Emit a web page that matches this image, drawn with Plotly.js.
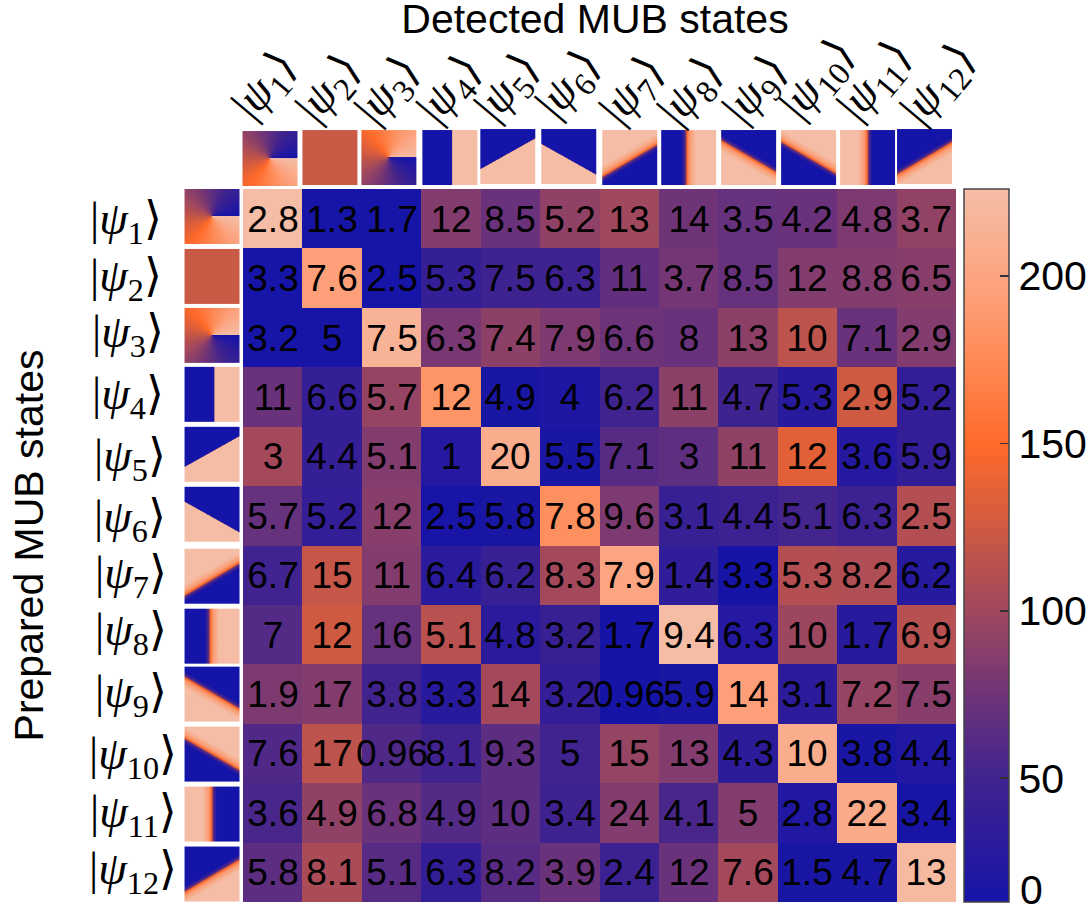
<!DOCTYPE html>
<html>
<head>
<meta charset="utf-8">
<script src="https://cdn.plot.ly/plotly-3.0.1.min.js"></script>
<style>html,body{margin:0;padding:0;background:#fff}#chart{width:1089px;height:908px}</style>
</head>
<body>
<div id="chart"></div>
<script>
const stateNumbers = [1,2,3,4,5,6,7,8,9,10,11,12];
const categories = stateNumbers.map(n => 'ψ' + n);
const kets = stateNumbers.map(n => '|<i>ψ</i><sub>' + n + '</sub>⟩');

// Colour level of each cell
const cellLevels = [
 [225,15,15,85,72,92,100,75,70,72,82,93],
 [15,195,15,40,48,48,68,78,70,85,85,88],
 [15,16,215,80,90,82,74,72,90,115,72,85],
 [72,40,95,185,18,20,50,90,48,28,125,38],
 [102,40,85,25,208,18,62,66,92,135,25,38],
 [70,38,88,16,18,180,82,42,45,52,45,110],
 [50,120,85,30,42,102,200,35,14,110,108,27],
 [60,125,70,113,30,42,14,225,25,98,28,112],
 [82,85,50,28,102,38,14,18,195,32,95,88],
 [58,115,58,50,65,50,95,85,33,208,18,22],
 [55,92,72,60,65,48,85,55,85,22,205,16],
 [65,105,62,38,62,72,45,72,102,18,18,222]
];
// Number printed in each cell
const cellLabels = [
 ['2.8','1.3','1.7','12','8.5','5.2','13','14','3.5','4.2','4.8','3.7'],
 ['3.3','7.6','2.5','5.3','7.5','6.3','11','3.7','8.5','12','8.8','6.5'],
 ['3.2','5','7.5','6.3','7.4','7.9','6.6','8','13','10','7.1','2.9'],
 ['11','6.6','5.7','12','4.9','4','6.2','11','4.7','5.3','2.9','5.2'],
 ['3','4.4','5.1','1','20','5.5','7.1','3','11','12','3.6','5.9'],
 ['5.7','5.2','12','2.5','5.8','7.8','9.6','3.1','4.4','5.1','6.3','2.5'],
 ['6.7','15','11','6.4','6.2','8.3','7.9','1.4','3.3','5.3','8.2','6.2'],
 ['7','12','16','5.1','4.8','3.2','1.7','9.4','6.3','10','1.7','6.9'],
 ['1.9','17','3.8','3.3','14','3.2','0.96','5.9','14','3.1','7.2','7.5'],
 ['7.6','17','0.96','8.1','9.3','5','15','13','4.3','10','3.8','4.4'],
 ['3.6','4.9','6.8','4.9','10','3.4','24','4.1','5','2.8','22','3.4'],
 ['5.8','8.1','5.1','6.3','8.2','3.9','2.4','12','7.6','1.5','4.7','13']
];
const colorbarTicks = [50,100,150,200];

// Colour scale
const zMin = 13, zMax = 226;
const scaleLevels = [13,30,50,75,100,125,150,175,200,226];
const scaleColors = ['#1414a8','#2a1b9c','#40238f','#6f3478','#a0485e','#cf5a42','#ff6a2a','#ff8a55','#fca582','#f5bea6'];
const colorscale = scaleLevels.map((v,i) => [(v-zMin)/(zMax-zMin), scaleColors[i]]);

// Plot frame in pixels
const W = 1089, H = 908;
const L = 242.5, R = 956, T = 189, B = 902.5;
const px = x => (x-L)/(R-L);
const py = y => (B-y)/(B-T);

// Little phase pictures: kind + geometry in unit-square terms
const BLUE='#1414a8', PEACH='#f5bda5', ORANGE='#ff6a2a', PURPLE='#5a2b80', RED='#c85a46', SALMON='#fb9a70';
const thumbs = [
 {kind:'conic', reverse:true},
 {kind:'solid', color:RED},
 {kind:'conic', reverse:false},
 {kind:'edge', a:[0.545,0], b:[0.545,1], peach:[1,0.5], soft:0.004},
 {kind:'edge', a:[0,0.73], b:[1,0.17], peach:[0,1], soft:0.004},
 {kind:'edge', a:[0,0.27], b:[1,0.83], peach:[0,1], soft:0.004},
 {kind:'edge', a:[0,0.84], b:[1,0.25], peach:[0,0], soft:0.16},
 {kind:'edge', a:[0.47,0], b:[0.47,1], peach:[1,0.5], soft:0.16},
 {kind:'edge', a:[0,0.2], b:[1,0.78], peach:[0,1], soft:0.16},
 {kind:'edge', a:[0,0.2], b:[1,0.78], peach:[0,0], soft:0.16},
 {kind:'edge', a:[0.49,0], b:[0.49,1], peach:[0,0.5], soft:0.16},
 {kind:'edge', a:[0,0.84], b:[1,0.25], peach:[1,1], soft:0.16}
];
function drawThumb(t){
  const S = 165, c = document.createElement('canvas');
  c.width = S; c.height = S;
  const g = c.getContext('2d');
  if(t.kind==='solid'){ g.fillStyle=t.color; g.fillRect(0,0,S,S); }
  else if(t.kind==='conic'){
    const cg = g.createConicGradient(0,S/2,S/2);
    colorscale.forEach(([p,col]) => cg.addColorStop(t.reverse ? 1-p : p, col));
    g.fillStyle=cg; g.fillRect(0,0,S,S);
  } else {
    let nx=-(t.b[1]-t.a[1]), ny=t.b[0]-t.a[0];
    const n=Math.hypot(nx,ny); nx/=n; ny/=n;
    const mx=(t.a[0]+t.b[0])/2, my=(t.a[1]+t.b[1])/2;
    if((t.peach[0]-mx)*nx+(t.peach[1]-my)*ny<0){nx=-nx;ny=-ny;}
    const span=1.5;
    const lg=g.createLinearGradient((mx-nx*span)*S,(my-ny*span)*S,(mx+nx*span)*S,(my+ny*span)*S);
    const at=d=>0.5+d/(2*span);
    lg.addColorStop(0,BLUE);
    lg.addColorStop(at(-0.6*t.soft),BLUE);
    lg.addColorStop(at(-0.2*t.soft),PURPLE);
    lg.addColorStop(at(0),ORANGE);
    lg.addColorStop(at(0.3*t.soft),SALMON);
    lg.addColorStop(at(t.soft),PEACH);
    lg.addColorStop(1,PEACH);
    g.fillStyle=lg; g.fillRect(0,0,S,S);
  }
  return c.toDataURL('image/png');
}
const thumbSrc = thumbs.map(drawThumb);

// Layout positions (pixels) of the picture strip and the ket labels
const topThumbBox = [[242,131],[302,130],[361,130],[422,130],[480,129],[541,129],[602,130],[661,130],[721,130],[781,130],[840,130],[897,129]];
const leftThumbTop = [189,249,308,367,427,487,549,609,667,727,787,847];
const topKetPos = [[266,86],[330,89],[389,91],[451,90],[509,88],[570,85],[634,91],[692,92],[757,90],[819,80],[876,82],[940,85]];
const leftKetPos = [[163,222],[163,279],[165,335],[165,397],[167,459],[167,520],[168,576],[168,633],[168,695],[178,757],[178,815],[178,872]];
const thumbSize = 55;

const images = [];
thumbSrc.forEach((src,i) => {
  images.push({source:src, xref:'paper', yref:'paper', x:px(topThumbBox[i][0]), y:py(topThumbBox[i][1]),
    sizex:thumbSize/(R-L), sizey:thumbSize/(B-T), xanchor:'left', yanchor:'top', sizing:'stretch', layer:'above'});
  images.push({source:src, xref:'paper', yref:'paper', x:px(184), y:py(leftThumbTop[i]),
    sizex:thumbSize/(R-L), sizey:thumbSize/(B-T), xanchor:'left', yanchor:'top', sizing:'stretch', layer:'above'});
});

const ketFont = {family:'"Liberation Serif","DejaVu Serif",serif', size:46, color:'#000'};
const annotations = [];
kets.forEach((k,i) => {
  annotations.push({text:k, xref:'paper', yref:'paper', x:px(topKetPos[i][0]), y:py(topKetPos[i][1]),
    xanchor:'center', yanchor:'middle', textangle:-50, showarrow:false, font:ketFont});
  annotations.push({text:k, xref:'paper', yref:'paper', x:px(leftKetPos[i][0]), y:py(leftKetPos[i][1]),
    xanchor:'right', yanchor:'middle', showarrow:false, font:ketFont});
});
annotations.push({text:'0', xref:'paper', yref:'paper', x:px(1032), y:py(890), xanchor:'center', yanchor:'middle', height:32,
  showarrow:false, font:{family:'"Liberation Sans",Arial,sans-serif', size:41, color:'#000'}});

const trace = {
  type:'heatmap', x:categories, y:categories, z:cellLevels, text:cellLabels,
  texttemplate:'%{text}', textfont:{family:'"Liberation Sans",Arial,sans-serif', size:37, color:'#000'},
  zmin:zMin, zmax:zMax, colorscale:colorscale, hoverinfo:'skip',
  colorbar:{
    x:(964-L)/(R-L), xanchor:'left', xpad:0, y:0.5, yanchor:'middle', ypad:0,
    len:1, lenmode:'fraction', thickness:45, thicknessmode:'pixels',
    outlinecolor:'#444', outlinewidth:1.5, borderwidth:0,
    tickmode:'array', tickvals:colorbarTicks, ticktext:colorbarTicks.map(String),
    ticks:'inside', ticklen:9, tickwidth:1.5, tickcolor:'#333',
    tickfont:{family:'"Liberation Sans",Arial,sans-serif', size:41, color:'#000'}
  }
};
const layout = {
  width:W, height:H, paper_bgcolor:'#fff', plot_bgcolor:'#fff',
  margin:{l:L, r:W-R, t:T, b:H-B, pad:0, autoexpand:false},
  title:{text:'Detected MUB states', x:595/W, xref:'container', xanchor:'center', y:1-19/H, yref:'container', yanchor:'middle',
    font:{family:'"Liberation Sans",Arial,sans-serif', size:41, color:'#000'}},
  xaxis:{type:'category', showticklabels:false, ticks:'', showgrid:false, zeroline:false, showline:false},
  yaxis:{type:'category', autorange:'reversed', showticklabels:false, ticks:'', showgrid:false, zeroline:false, showline:false,
    title:{text:'Prepared MUB states', standoff:185, font:{family:'"Liberation Sans",Arial,sans-serif', size:41, color:'#000'}}},
  images:images, annotations:annotations
};
Plotly.newPlot('chart',[trace],layout,{displayModeBar:false,staticPlot:true});
</script>
</body>
</html>
